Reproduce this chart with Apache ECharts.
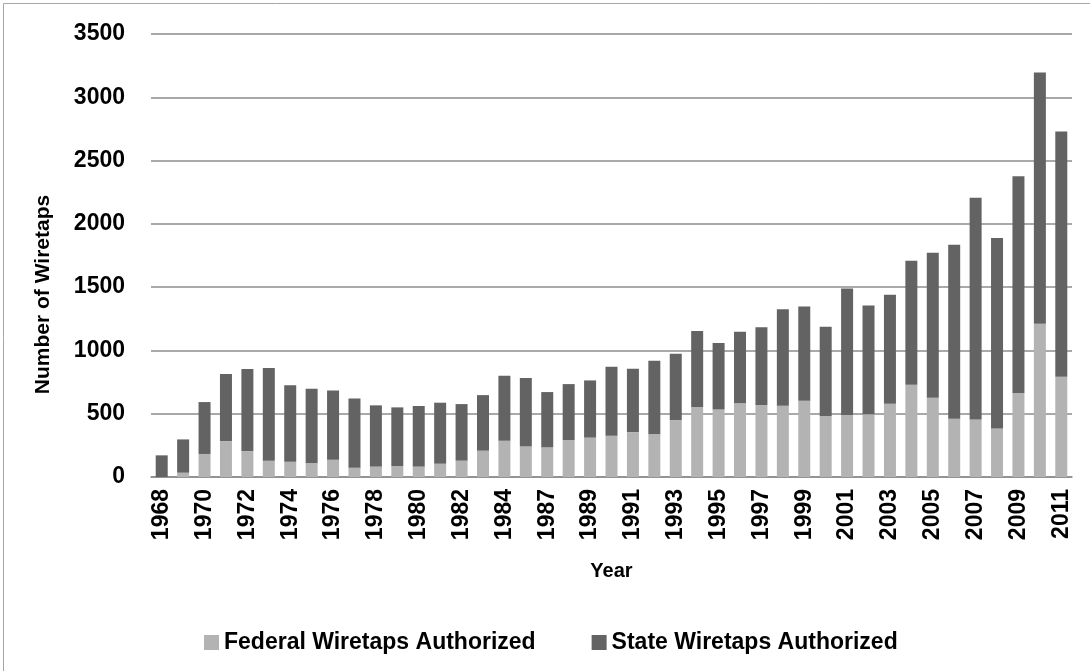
<!DOCTYPE html>
<html>
<head>
<meta charset="utf-8">
<script src="https://cdn.jsdelivr.net/npm/echarts@6/dist/echarts.min.js"></script>
<style>
  html, body { margin: 0; padding: 0; background: #fff; }
  #chart { width: 1090px; height: 671px; }
</style>
</head>
<body>
<div id="chart"></div>
<script>
// 年份 (1986 不在数据里)
const years = ['1968', '1969', '1970', '1971', '1972', '1973', '1974', '1975', '1976', '1977',
  '1978', '1979', '1980', '1981', '1982', '1983', '1984', '1985', '1987', '1988',
  '1989', '1990', '1991', '1992', '1993', '1994', '1995', '1996', '1997', '1998',
  '1999', '2000', '2001', '2002', '2003', '2004', '2005', '2006', '2007', '2008',
  '2009', '2010', '2011']
const federal = [0, 34, 182, 284, 205, 129, 121, 108, 137, 74,
  82, 87, 82, 105, 129, 208, 287, 240, 234, 292,
  311, 326, 355, 337, 450, 553, 534, 582, 568, 563,
  603, 479, 487, 495, 579, 729, 626, 461, 455, 384,
  663, 1211, 792]
const state = [171, 263, 410, 529, 648, 732, 603, 589, 547, 547,
  484, 463, 479, 482, 447, 439, 513, 542, 437, 442,
  452, 545, 500, 582, 524, 600, 524, 566, 616, 763,
  744, 708, 1003, 860, 861, 979, 1145, 1373, 1751, 1505,
  1713, 1984, 1937]
const yTicks = { min: 0, max: 3500, interval: 500 }

const font = 'Liberation Sans'
let chart = echarts.init(document.getElementById('chart'))

chart.setOption({
  backgroundColor: '#fff',
  animation: false,
  graphic: [{
    type: 'rect',
    left: 1,
    top: 1,
    shape: { width: 1087, height: 668 },
    style: { fill: 'none', stroke: '#a6a6a6', lineWidth: 1 },
    silent: true
  }],
  grid: { left: 151, right: 18, top: 34, bottom: 194 },
  legend: {
    left: 199,
    top: 626,
    itemWidth: 15,
    itemHeight: 15,
    itemGap: 56,
    icon: 'rect',
    textStyle: { fontFamily: font, fontWeight: 'bold', fontSize: 23, color: '#000' },
    data: ['Federal Wiretaps Authorized', 'State Wiretaps Authorized']
  },
  xAxis: {
    type: 'category',
    data: years,
    name: 'Year',
    nameLocation: 'middle',
    nameGap: 84,
    nameTextStyle: { fontFamily: font, fontWeight: 'bold', fontSize: 20, color: '#000' },
    axisLine: { lineStyle: { color: '#8c8c8c', width: 1.5 } },
    axisTick: { show: false },
    axisLabel: {
      interval: 1,
      rotate: 90,
      margin: 12,
      fontFamily: font,
      fontWeight: 'bold',
      fontSize: 23,
      color: '#000'
    }
  },
  yAxis: {
    type: 'value',
    min: yTicks.min,
    max: yTicks.max,
    interval: yTicks.interval,
    name: 'Number of Wiretaps',
    nameLocation: 'middle',
    nameGap: 97,
    // 标题偏下, 用右侧padding把它往下推
    nameTextStyle: { fontFamily: font, fontWeight: 'bold', fontSize: 21, color: '#000', padding: [0, 78, 0, 0] },
    axisLine: { show: false },
    axisTick: { show: false },
    splitLine: { lineStyle: { color: '#8c8c8c', width: 1.5 } },
    axisLabel: {
      margin: 26,
      fontFamily: font,
      fontWeight: 'bold',
      fontSize: 23,
      color: '#000',
      formatter: v => String(v)
    }
  },
  series: [
    {
      name: 'Federal Wiretaps Authorized',
      type: 'bar',
      stack: 'total',
      barCategoryGap: '44%',
      itemStyle: { color: '#b3b3b3' },
      data: federal
    },
    {
      name: 'State Wiretaps Authorized',
      type: 'bar',
      stack: 'total',
      barCategoryGap: '44%',
      itemStyle: { color: '#636363' },
      data: state
    }
  ]
})
</script>
</body>
</html>
